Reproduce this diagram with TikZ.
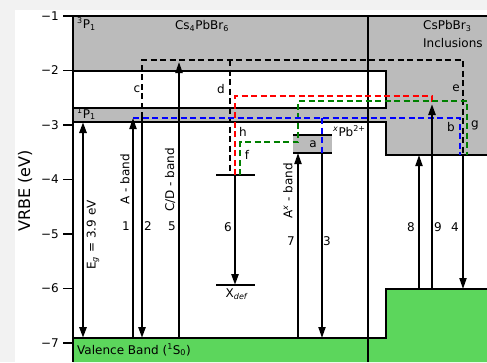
\documentclass[tikz,border=0pt]{standalone}
\usepackage{fontspec}
\setmainfont{DejaVu Sans}
\usetikzlibrary{arrows.meta}
\definecolor{bandgray}{RGB}{187,187,187}
\definecolor{vbgreen}{RGB}{92,214,92}
\definecolor{margingray}{RGB}{242,242,242}
\definecolor{dred}{RGB}{255,0,0}
\definecolor{dgreen}{RGB}{0,128,0}
\definecolor{dblue}{RGB}{0,0,255}
\begin{document}
\begin{tikzpicture}[x=1pt,y=-1pt,
  frameline/.style={line width=1.5pt,black},
  tip/.style={-{Triangle[length=11pt,width=7pt]}},
  arr/.style={line width=2pt,tip},
  thickarr/.style={line width=2.6pt,{Triangle[length=11pt,width=7pt]}-{Triangle[length=11pt,width=7pt]}},
  dsh/.style={line width=1.8pt,dash pattern=on 6pt off 3.5pt},
  lbl/.style={inner sep=0pt,font=\fontsize{12}{14}\selectfont},
  ticklbl/.style={inner sep=0pt,anchor=east,font=\fontsize{12}{14}\selectfont},
]
\useasboundingbox (0,0) rectangle (487,362);
% backgrounds
\fill[margingray] (0,0) rectangle (487,362);
\fill[white] (15,10) rectangle (487,362);
\fill[bandgray] (73,16) rectangle (487,155);
\fill[white] (73,71) rectangle (386,108);
\fill[white] (73,122) rectangle (386,362);
\fill[white] (386,155) rectangle (487,362);
\fill[vbgreen] (73,362) -- (73,338) -- (386,338) -- (386,289) -- (487,289) -- (487,362) -- cycle;
% frame lines
\draw[frameline] (73,16) -- (487,16);
\draw[frameline] (73,71) -- (386,71) -- (386,108) -- (73,108);
\draw[frameline] (73,122) -- (386,122) -- (386,155) -- (487,155);
\draw[frameline] (73,338) -- (386,338) -- (386,289) -- (487,289);
\draw[frameline] (368,16) -- (368,362);
\draw[frameline] (73,16) -- (73,362);
% ticks
\foreach \v/\yy in {1/16,2/70.5,3/125,4/179.5,5/234,6/288.5,7/343}{
  \draw[line width=1.8pt] (63,\yy) -- (73,\yy);
  \node[ticklbl] (tick\v) at (59,\yy) {−\v};
}
\node[rotate=90,inner sep=0pt,font=\fontsize{16}{18}\selectfont] (ylab) at (25,191) {VRBE (eV)};
% xPb box
\fill[bandgray] (293,135) rectangle (332,153);
\draw[line width=2pt] (293,135) -- (332,135);
\draw[line width=2pt] (293,153) -- (332,153);
% defect levels
\draw[line width=2pt] (216,175) -- (255,175);
\draw[line width=2pt] (216,285) -- (255,285);
% coordinates
\coordinate (egT) at (83,122); \coordinate (egB) at (83,338);
\coordinate (aT) at (133,118); \coordinate (aB) at (133,338);
\coordinate (cTop) at (142,60); \coordinate (cMid) at (142,118); \coordinate (cB) at (142,338);
\coordinate (cdT) at (179,62); \coordinate (cdB) at (179,338);
\coordinate (dTop) at (230,60); \coordinate (dB) at (230,175);
\coordinate (sixT) at (235,175); \coordinate (sixB) at (235,285);
\coordinate (redC1) at (235,96); \coordinate (redC2) at (432,96);
\coordinate (nineT) at (432,104); \coordinate (nineB) at (432,289);
\coordinate (grS) at (240,175); \coordinate (grC1) at (240,142); \coordinate (grC2) at (298,142);
\coordinate (grC3) at (298,101); \coordinate (grC4) at (467,101); \coordinate (grE) at (467,155);
\coordinate (blC1) at (460,118); \coordinate (blE) at (460,155);
\coordinate (blV) at (322,118); \coordinate (threeT) at (322,153); \coordinate (threeB) at (322,338);
\coordinate (sevT) at (298,153); \coordinate (sevB) at (298,338);
\coordinate (eightT) at (419,155); \coordinate (eightB) at (419,289);
\coordinate (eTop) at (463,60); \coordinate (eMid) at (463,155); \coordinate (fourB) at (463,289);
% dashed paths
\draw[dsh,black] (cMid) -- (cTop) -- (eTop) -- (eMid);
\draw[dsh,black] (dTop) -- (dB);
\draw[dsh,dred] (sixT) -- (redC1) -- (redC2) -- (nineT);
\draw[dsh,dgreen] (grS) -- (grC1) -- (grC2) -- (grC3) -- (grC4) -- (grE);
\draw[dsh,dblue] (aT) -- (blC1) -- (blE);
\draw[dsh,dblue] (blV) -- (threeT);
% arrows
\draw[thickarr] (egB) -- (egT);
\draw[arr] (aB) -- (aT);
\draw[arr,line width=2.4pt] (cMid) -- (cB);
\draw[arr] (cdB) -- (cdT);
\draw[arr,line width=2.4pt] (sixT) -- (sixB);
\draw[arr,line width=2.4pt] (nineB) -- (nineT);
\draw[arr] (sevB) -- (sevT);
\draw[arr] (threeT) -- (threeB);
\draw[arr] (eightB) -- (eightT);
\draw[arr] (eMid) -- (fourB);
% region labels
\node[lbl,anchor=west] (p3) at (77,24) {\textsuperscript{3}P\textsubscript{1}};
\node[lbl] (cs4) at (202,26) {Cs\textsubscript{4}PbBr\textsubscript{6}};
\node[lbl,anchor=west] (p1) at (77,114) {\textsuperscript{1}P\textsubscript{1}};
\node[lbl,anchor=west] (cs1) at (423,26) {CsPbBr\textsubscript{3}};
\node[lbl,anchor=west] (incl) at (423,43) {Inclusions};
\node[lbl,anchor=west] (vb) at (77,350) {Valence Band (\textsuperscript{1}S\textsubscript{0})};
% letter labels
\node[lbl] (lc) at (137,89) {c};
\node[lbl] (ld) at (221,89) {d};
\node[lbl] (le) at (456,88) {e};
\node[lbl] (lh) at (243,132) {h};
\node[lbl] (lf) at (247,155) {f};
\node[lbl] (lb) at (451,127) {b};
\node[lbl] (lg) at (475,125) {g};
\node[lbl] (la) at (313,144) {a};
\node[lbl,anchor=west] (lpb) at (333,131) {\textsuperscript{\textit{x}}Pb\textsuperscript{2+}};
% number labels
\node[lbl] (n1) at (126,226) {1};
\node[lbl] (n2) at (148,226) {2};
\node[lbl] (n5) at (172,226) {5};
\node[lbl] (n6) at (228,227) {6};
\node[lbl] (n7) at (291,241) {7};
\node[lbl] (n3) at (327,241) {3};
\node[lbl] (n8) at (411,227) {8};
\node[lbl] (n9) at (438,227) {9};
\node[lbl] (n4) at (455,227) {4};
\node[lbl] (xdef) at (237,294) {X\textsubscript{\textit{def}}};
% rotated labels
\node[lbl,rotate=90] (eglab) at (93,235) {E\textsubscript{\textit{g}} = 3.9 eV};
\node[lbl,rotate=90] (alab) at (125,179) {A - band};
\node[lbl,rotate=90] (cdlab) at (170,180) {C/D - band};
\node[lbl,rotate=90] (axlab) at (288,191) {A\textsuperscript{\textit{x}} - band};
\end{tikzpicture}
\end{document}
